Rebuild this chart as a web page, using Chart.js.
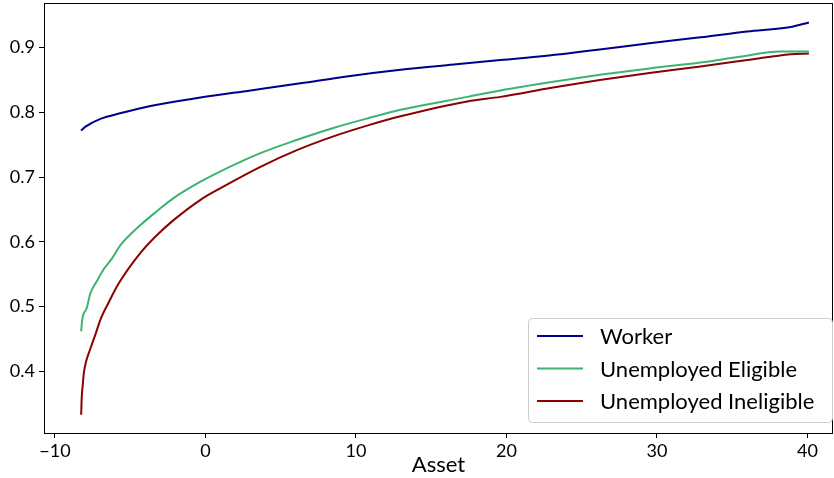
<!DOCTYPE html>
<html lang="en">
<head>
<meta charset="UTF-8">
<title>Asset</title>
<script src="https://cdn.jsdelivr.net/npm/chart.js"></script>
<style>
  body { margin: 0; background: #fff; }
  #wrap { width: 834px; height: 478px; }
</style>
</head>
<body>
<div id="wrap"><canvas id="c" width="834" height="478"></canvas></div>
<script>
// values
const workerX = [-8.27, -7.97, -6.98, -5.6, -3.65, -0.33, 3.0, 6.31, 9.5, 12.96, 16.5, 19.6, 22.5, 26.2, 29.5, 32.9, 36.0, 38.9, 40.1];
const workerY = [0.772, 0.778, 0.790, 0.799, 0.810, 0.823, 0.834, 0.845, 0.856, 0.866, 0.874, 0.881, 0.887, 0.897, 0.907, 0.916, 0.925, 0.932, 0.939];

const eligX = [-8.26, -8.19, -7.9, -7.64, -7.2, -6.87, -6.2, -5.65, -4.32, -3.2, -2.1, -0.33, 1.0, 3.65, 6.0, 8.5, 10.8, 12.96, 17.4, 19.6, 23.0, 26.2, 29.5, 32.9, 35.5, 38.2, 40.1];
const eligY = [0.462, 0.480, 0.497, 0.521, 0.540, 0.554, 0.575, 0.595, 0.626, 0.648, 0.668, 0.693, 0.709, 0.737, 0.757, 0.776, 0.791, 0.804, 0.824, 0.834, 0.847, 0.858, 0.868, 0.877, 0.886, 0.894, 0.894];

const inelX = [-8.26, -8.22, -8.15, -8.08, -7.9, -7.68, -7.3, -6.98, -6.4, -5.76, -4.32, -3.2, -2.1, -0.33, 1.0, 3.65, 6.0, 8.5, 10.8, 12.96, 17.4, 19.6, 23.0, 26.2, 29.5, 32.9, 36.0, 38.9, 40.1];
const inelY = [0.333, 0.361, 0.380, 0.398, 0.418, 0.433, 0.458, 0.480, 0.508, 0.536, 0.583, 0.611, 0.634, 0.665, 0.683, 0.716, 0.741, 0.763, 0.780, 0.794, 0.817, 0.824, 0.838, 0.850, 0.861, 0.871, 0.881, 0.890, 0.891];

const seriesNames = ["Worker", "Unemployed Eligible", "Unemployed Ineligible"];
const seriesColors = ["#00008b", "#3cb371", "#8b0000"];
const xTicks = [-10, 0, 10, 20, 30, 40];
const yTicks = [0.4, 0.5, 0.6, 0.7, 0.8, 0.9];

const FONT = "Lato, 'Open Sans', sans-serif";

function pts(xs, ys) {
  return xs.map(function (x, i) { return { x: x, y: ys[i] }; });
}

// frame round the plot area (matplotlib spines)
const frame = {
  id: "frame",
  afterDatasetsDraw(chart) {
    const a = chart.chartArea, ctx = chart.ctx;
    ctx.save();
    ctx.strokeStyle = "#000";
    ctx.lineWidth = 1;
    ctx.strokeRect(Math.round(a.left) + 0.5, Math.round(a.top) + 0.5,
      Math.round(a.right - a.left) - 1, Math.round(a.bottom - a.top));
    ctx.restore();
  }
};

// legend box inside the lower right corner
const boxLegend = {
  id: "boxLegend",
  afterDraw(chart) {
    const ctx = chart.ctx;
    const a = chart.chartArea;
    const w = 304, h = 104;
    const x0 = a.right - 1 - w, y0 = a.bottom - 11 - h;
    ctx.save();
    ctx.fillStyle = "rgba(255,255,255,0.8)";
    ctx.strokeStyle = "#cccccc";
    ctx.lineWidth = 1;
    ctx.beginPath();
    ctx.roundRect(x0 + 0.5, y0 + 0.5, w, h, 4);
    ctx.fill();
    ctx.stroke();
    ctx.font = "22px " + FONT;
    ctx.textBaseline = "middle";
    chart.data.datasets.forEach(function (ds, i) {
      const yy = y0 + 18 + i * 32.5;
      ctx.strokeStyle = ds.borderColor;
      ctx.lineWidth = 2;
      ctx.beginPath();
      ctx.moveTo(x0 + 9, yy);
      ctx.lineTo(x0 + 55, yy);
      ctx.stroke();
      ctx.fillStyle = "#000";
      ctx.fillText(ds.label, x0 + 72, yy + 1);
    });
    ctx.restore();
  }
};

new Chart(document.getElementById("c"), {
  type: "scatter",
  data: {
    datasets: [
      { label: seriesNames[0], data: pts(workerX, workerY) },
      { label: seriesNames[1], data: pts(eligX, eligY) },
      { label: seriesNames[2], data: pts(inelX, inelY) }
    ].map(function (d, i) {
      d.showLine = true;
      d.borderColor = seriesColors[i];
      d.backgroundColor = seriesColors[i];
      d.borderWidth = 2;
      d.pointRadius = 0;
      d.cubicInterpolationMode = "monotone";
      return d;
    })
  },
  options: {
    responsive: false,
    animation: false,
    layout: { padding: { top: 3, right: 1, left: 0, bottom: 0 } },
    plugins: { legend: { display: false }, tooltip: { enabled: false } },
    scales: {
      x: {
        type: "linear",
        min: -10.73,
        max: 41.7,
        afterBuildTicks(s) { s.ticks = xTicks.map(function (v) { return { value: v }; }); },
        afterFit(s) { s.height = 45; s.paddingLeft = 0; s.paddingRight = 0; },
        ticks: {
          color: "#000",
          font: { family: FONT, size: 18 },
          padding: 2,
          maxRotation: 0,
          callback(v) { return String(v).replace("-", "\u2212"); }
        },
        grid: { drawOnChartArea: false, drawTicks: true, tickLength: 5, color: "#000" },
        border: { display: false },
        title: {
          display: true,
          text: "Asset",
          color: "#000",
          font: { family: FONT, size: 22 },
          padding: { top: 0, bottom: 0 }
        }
      },
      y: {
        type: "linear",
        min: 0.3048,
        max: 0.969,
        afterBuildTicks(s) { s.ticks = yTicks.map(function (v) { return { value: v }; }); },
        afterFit(s) { s.width = 44; s.paddingTop = 0; s.paddingBottom = 0; },
        ticks: {
          color: "#000",
          font: { family: FONT, size: 18 },
          padding: 4,
          callback(v) { return v.toFixed(1); }
        },
        grid: { drawOnChartArea: false, drawTicks: true, tickLength: 5, color: "#000" },
        border: { display: false }
      }
    }
  },
  plugins: [frame, boxLegend]
});
</script>
</body>
</html>
